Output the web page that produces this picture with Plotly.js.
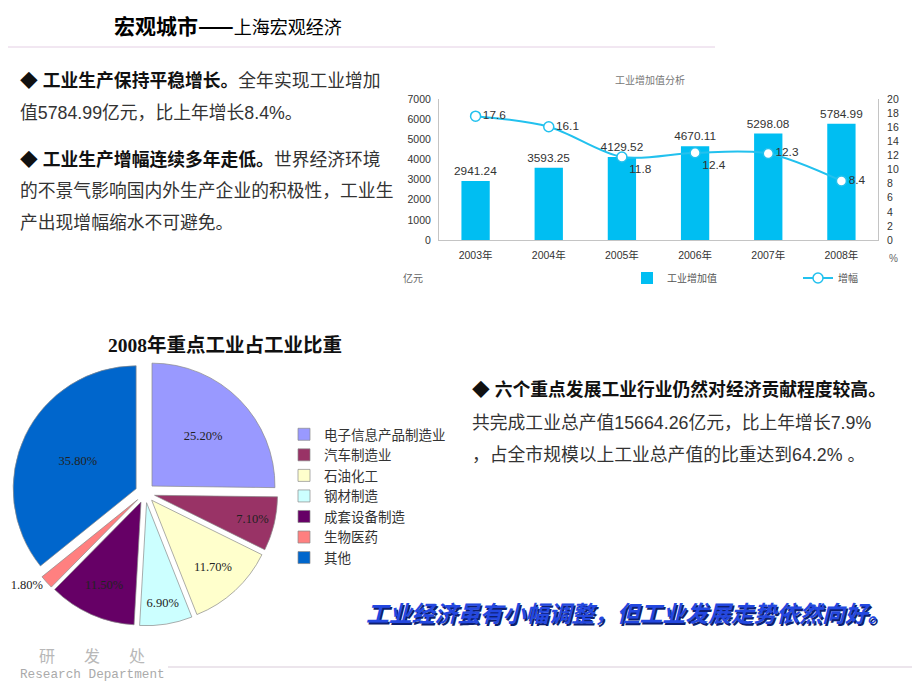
<!DOCTYPE html>
<html><head><meta charset="utf-8">
<script src="https://cdn.plot.ly/plotly-3.0.1.min.js"></script>
<style>html,body{margin:0;padding:0;background:#fff}</style>
</head><body><div id="chart" style="width:920px;height:690px"></div>
<script>
// ---- data ----
const years = ['2003年','2004年','2005年','2006年','2007年','2008年'];
const addedValue = [2941.24, 3593.25, 4129.52, 4670.11, 5298.08, 5784.99];
const growthRate = [17.6, 16.1, 11.8, 12.4, 12.3, 8.4];
const leftTicks = [0,1000,2000,3000,4000,5000,6000,7000];
const rightTicks = [0,2,4,6,8,10,12,14,16,18,20];
const industries = ['电子信息产品制造业','汽车制造业','石油化工','钢材制造','成套设备制造','生物医药','其他'];
const industryShare = [25.2, 7.1, 11.7, 6.9, 11.5, 1.8, 35.8];

// ---- styles ----
const industryColors = ['#9999FF','#993366','#FFFFCC','#CCFFFF','#660066','#FF8080','#0066CC'];
const growthLabelPos = ['middle right','middle right','bottom right','bottom right','middle right','middle right'];
const shareTextPos = ['inside','inside','inside','inside','inside','outside','inside'];
const SANS = '"Liberation Sans", Arial, "Noto Sans CJK SC", sans-serif';
const SERIF = '"Liberation Serif", "Noto Sans CJK SC", serif';
const BAR = '#00BEF2', LINE = '#22C1EE';

function px(x){return x/920;}
function py(y){return 1-y/690;}
function note(x, y, text, font, anchor){
  return {xref:'paper', yref:'paper', x:px(x), y:py(y), text:text, showarrow:false,
          xanchor:anchor||'left', yanchor:'middle', font:font};
}

const bodyFont = {family:SANS, size:17.8, color:'#333'};
const B = s => '<b><span style="color:#111">'+s+'</span></b>';

const traces = [
  {type:'bar', x:years, y:addedValue, name:'工业增加值', marker:{color:BAR}, legend:'legend',
   texttemplate:'%{y:.2f}', textposition:'outside', cliponaxis:false, constraintext:'none',
   textfont:{family:SANS, size:11.8, color:'#333'}, hoverinfo:'x+y'},
  {type:'scatter', x:years, y:growthRate, yaxis:'y2', name:'增幅', mode:'lines+markers+text', legend:'legend3',
   line:{shape:'spline', smoothing:0.9, color:LINE, width:2},
   marker:{size:10, color:'#ffffff', line:{color:LINE, width:1.5}},
   text:growthRate.map(v=>String(v)), textposition:growthLabelPos, cliponaxis:false,
   textfont:{family:SANS, size:11.8, color:'#333'}},
  {type:'pie', labels:industries, values:industryShare, sort:false, direction:'clockwise', rotation:0,
   pull:0.08, legend:'legend2',
   marker:{colors:industryColors, line:{color:'#8a8a8a', width:0.7}},
   texttemplate:'%{value:.2f}%', textposition:shareTextPos, insidetextorientation:'horizontal',
   textfont:{family:SERIF, size:12.5, color:'#222'},
   insidetextfont:{family:SERIF, size:12.5, color:'#222'},
   outsidetextfont:{family:SERIF, size:12.5, color:'#222'},
   domain:{x:[px(12.2), px(277.8)], y:[py(625.8), py(360.2)]}}
];

const legendFont = {family:SANS, size:10, color:'#555'};

const layout = {
  width:920, height:690, margin:{l:0,r:0,t:0,b:0},
  paper_bgcolor:'#ffffff', plot_bgcolor:'rgba(0,0,0,0)',
  bargap:0.613, showlegend:true,
  font:{family:SANS, color:'#333'},
  xaxis:{domain:[px(439), px(878)], type:'category', showline:true, linecolor:'#c4c4c4', linewidth:1,
         ticks:'', showgrid:false, zeroline:false, ticklabelstandoff:5,
         tickfont:{family:SANS, size:10.5, color:'#333'}, fixedrange:true},
  yaxis:{domain:[py(240), py(99.3)], range:[0,7000], tickvals:leftTicks, showline:true, linecolor:'#c4c4c4',
         ticks:'', showgrid:false, zeroline:false, ticklabelstandoff:5,
         tickfont:{family:SANS, size:10.5, color:'#333'}, fixedrange:true},
  yaxis2:{overlaying:'y', side:'right', anchor:'x', range:[0,20], tickvals:rightTicks, showline:true,
          linecolor:'#c4c4c4', ticks:'', showgrid:false, zeroline:false, ticklabelstandoff:6,
          tickfont:{family:SANS, size:10.5, color:'#333'}, fixedrange:true},
  legend:{orientation:'h', x:px(627), y:py(278), xanchor:'left', yanchor:'middle',
          bgcolor:'rgba(0,0,0,0)', font:legendFont},
  legend3:{orientation:'h', x:px(798), y:py(278), xanchor:'left', yanchor:'middle',
          bgcolor:'rgba(0,0,0,0)', font:legendFont},
  legend2:{orientation:'v', x:px(284), y:py(419), xanchor:'left', yanchor:'top', bgcolor:'rgba(0,0,0,0)',
           font:{family:SANS, size:13.5, color:'#333'}},
  shapes:[
    {type:'line', xref:'paper', yref:'paper', x0:px(8), x1:px(715), y0:py(47), y1:py(47),
     line:{color:'#e4cfe4', width:1}},
    {type:'line', xref:'paper', yref:'paper', x0:px(168), x1:px(912), y0:py(667), y1:py(667),
     line:{color:'#d9cbd9', width:1.2}}
  ],
  annotations:[
    note(112, 25, '<b>宏观城市——</b><span style="font-size:18px">上海宏观经济</span>',
         {family:'"Noto Sans CJK SC", sans-serif', size:21, color:'#000'}),
    note(18, 81, B('◆ 工业生产保持平稳增长。')+'全年实现工业增加', bodyFont),
    note(18, 113, '值5784.99亿元，比上年增长8.4%。', bodyFont),
    note(18, 159, B('◆ 工业生产增幅连续多年走低。')+'世界经济环境', bodyFont),
    note(18, 191, '的不景气影响国内外生产企业的积极性，工业生', bodyFont),
    note(18, 223, '产出现增幅缩水不可避免。', bodyFont),
    note(650, 80, '工业增加值分析', {family:SANS, size:10, color:'#777'}, 'center'),
    note(413, 278, '亿元', {family:SANS, size:10, color:'#666'}, 'center'),
    note(893, 258, '%', {family:SANS, size:10, color:'#666'}, 'center'),
    note(225, 345, '<b>2008年重点工业占工业比重</b>', {family:SERIF, size:19.5, color:'#111'}, 'center'),
    note(470, 390, B('◆ 六个重点发展工业行业仍然对经济贡献程度较高。'), bodyFont),
    note(470, 423, '共完成工业总产值15664.26亿元，比上年增长7.9%', bodyFont),
    note(470, 455, '，占全市规模以上工业总产值的比重达到64.2% 。', bodyFont),
    note(364, 612, '工业经济虽有小幅调整，但工业发展走势依然向好。',
         {family:'"Noto Sans CJK SC", sans-serif', size:22.8, color:'#2448E0', weight:'bold', style:'italic',
          shadow:'1.5px 1.5px 0px #0d1f70'}),
    note(47, 655, '研', {family:'"Noto Sans CJK SC", sans-serif', size:16, color:'#b8b8b8'}, 'center'),
    note(92, 655, '发', {family:'"Noto Sans CJK SC", sans-serif', size:16, color:'#b8b8b8'}, 'center'),
    note(137, 655, '处', {family:'"Noto Sans CJK SC", sans-serif', size:16, color:'#b8b8b8'}, 'center'),
    note(18, 674, 'Research Department', {family:'"Liberation Mono", "DejaVu Sans Mono", monospace', size:12.7, color:'#aaa'})
  ]
};

Plotly.newPlot('chart', traces, layout, {displayModeBar:false, staticPlot:true});
</script>
</body></html>
